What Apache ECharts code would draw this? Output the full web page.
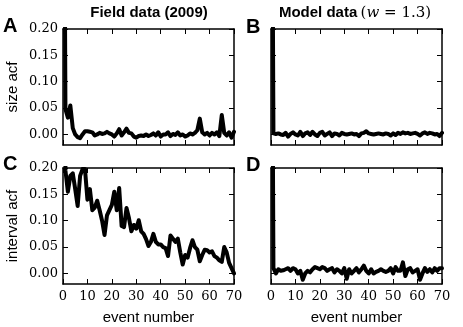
<!DOCTYPE html>
<html>
<head>
<meta charset="utf-8">
<script src="https://cdn.jsdelivr.net/npm/echarts@6/dist/echarts.min.js"></script>
<style>
html, body { margin: 0; padding: 0; background: #fff; }
#main { width: 463px; height: 327px; }
</style>
</head>
<body>
<div id="main"></div>
<script>
// lags 0..70
var lags = [];
for (var i = 0; i <= 70; i++) lags.push(i);
var xTicks = [0, 10, 20, 30, 40, 50, 60, 70];
var yTicks = [0, 0.05, 0.10, 0.15, 0.20];

// A: size acf, field data
var sizeField = [
  1.0, 0.048, 0.032, 0.055, 0.012, 0.0, -0.005, -0.007, 0.0, 0.006,
  0.006, 0.005, 0.004, -0.002, 0.0, 0.003, 0.001, 0.002, 0.005, 0.002,
  0.0, -0.004, 0.002, 0.01, -0.002, 0.004, 0.011, 0.003, 0.002, -0.004,
  -0.006, -0.003, -0.002, -0.003, 0.0, -0.003, -0.001, 0.002, -0.002, 0.004,
  -0.004, 0.0, 0.0, 0.004, -0.003, 0.001, -0.001, 0.004, -0.002, 0.0,
  -0.004, -0.002, 0.002, 0.0, 0.003, 0.008, 0.03, 0.004, 0.0, 0.003,
  -0.002, 0.003, 0.0, 0.004, -0.003, 0.037, 0.003, -0.002, 0.004, -0.006,
  0.005
];
// B: size acf, model data
var sizeModel = [
  1.0, 0.002, 0.001, 0.002, 0.0, -0.001, 0.003, -0.004, 0.001, 0.004,
  0.0, -0.002, 0.005, -0.003, 0.002, 0.004, -0.001, 0.005, 0.0, -0.003,
  0.003, 0.005, -0.002, 0.001, 0.004, -0.003, 0.002, 0.001, -0.002, 0.003,
  0.001, 0.0, 0.001, 0.002, 0.0, 0.001, -0.003, 0.002, 0.003, 0.006,
  0.002, 0.001, 0.0, 0.001, 0.002, 0.001, 0.0, 0.002, 0.001, -0.002,
  0.002, -0.001, 0.003, 0.001, 0.004, 0.002, 0.003, 0.001, 0.002, 0.003,
  0.001, -0.002, 0.002, 0.004, 0.001, 0.003, 0.002, 0.0, 0.001, -0.003,
  0.003
];
// C: interval acf, field data
var intervalField = [
  1.0, 0.195, 0.155, 0.185, 0.19, 0.16, 0.128, 0.185, 0.198, 0.198,
  0.14, 0.16, 0.12, 0.125, 0.138, 0.12, 0.1, 0.073, 0.11, 0.12,
  0.13, 0.155, 0.12, 0.162, 0.09, 0.088, 0.124, 0.105, 0.08, 0.092,
  0.085, 0.101, 0.08, 0.075, 0.065, 0.052, 0.06, 0.075, 0.06, 0.055,
  0.055, 0.05, 0.048, 0.033, 0.072, 0.066, 0.06, 0.066, 0.04, 0.017,
  0.035, 0.03, 0.048, 0.063, 0.05, 0.045, 0.023, 0.035, 0.045, 0.044,
  0.04, 0.042, 0.033, 0.03, 0.025, 0.022, 0.05, 0.04, 0.02, 0.01,
  0.0
];
// D: interval acf, model data
var intervalModel = [
  1.0, 0.01, 0.0, 0.008, 0.005, 0.006, 0.008, 0.01, 0.005, 0.01,
  0.008, 0.0, 0.005, -0.012, 0.0, 0.005, 0.002, 0.008, 0.012, 0.01,
  0.008, 0.012, 0.01, 0.005, 0.008, 0.01, 0.002, 0.008, 0.005, 0.0,
  0.01, -0.01, 0.008, 0.0, 0.005, 0.01, 0.002, 0.008, 0.015, 0.005,
  0.0, 0.008, 0.0, 0.003, 0.005, 0.008, 0.005, 0.003, 0.005, 0.01,
  0.0, 0.012, 0.005, 0.005, 0.021, -0.005, 0.008, 0.01, 0.002, 0.005,
  0.008, -0.012, 0.0, 0.01, 0.003, 0.008, 0.002, 0.01, 0.005, 0.01,
  0.01
];

var panels = [
  { data: sizeField, left: 63, top: 29, xLabels: false, yLabels: true, yName: 'size acf', xName: '' },
  { data: sizeModel, left: 271, top: 29, xLabels: false, yLabels: false, yName: '', xName: '' },
  { data: intervalField, left: 63, top: 168, xLabels: true, yLabels: true, yName: 'interval acf', xName: 'event number' },
  { data: intervalModel, left: 271, top: 168, xLabels: true, yLabels: false, yName: '', xName: 'event number' }
];

var sansFont = 'Liberation Sans';
var serifFont = 'DejaVu Serif';
var lineStyleAxis = { color: '#000', width: 1.5 };

var grids = [], xAxes = [], yAxes = [], series = [];
panels.forEach(function (p, k) {
  grids.push({ left: p.left, top: p.top, width: 171, height: 116 });
  // bottom + top x axis
  [false, true].forEach(function (isTop) {
    xAxes.push({
      type: 'value', gridIndex: k, min: 0, max: 70, interval: 10,
      position: isTop ? 'top' : 'bottom',
      axisLine: { show: true, onZero: false, lineStyle: lineStyleAxis },
      axisTick: { show: true, inside: true, length: 5, lineStyle: { color: '#000', width: 1 } },
      axisLabel: {
        show: !isTop && p.xLabels, margin: 6,
        fontFamily: serifFont, fontSize: 13, color: '#000'
      },
      splitLine: { show: false },
      name: isTop ? '' : p.xName, nameLocation: 'middle', nameGap: 26,
      nameTextStyle: { color: '#000', fontFamily: sansFont, fontSize: 15 }
    });
  });
  // left + right y axis
  [false, true].forEach(function (isRight) {
    yAxes.push({
      type: 'value', gridIndex: k, min: -0.02, max: 0.2,
      position: isRight ? 'right' : 'left',
      axisLine: { show: true, onZero: false, lineStyle: lineStyleAxis },
      axisTick: { show: true, inside: true, length: 5, customValues: yTicks, lineStyle: { color: '#000', width: 1 } },
      axisLabel: {
        show: !isRight && p.yLabels, customValues: yTicks, margin: 5,
        fontFamily: serifFont, fontSize: 13, color: '#000',
        formatter: function (v) { return v.toFixed(2); }
      },
      splitLine: { show: false },
      name: isRight ? '' : p.yName, nameLocation: 'middle', nameGap: 43, nameRotate: 90,
      nameTextStyle: { color: '#000', fontFamily: sansFont, fontSize: 15 }
    });
  });
  series.push({
    type: 'line', xAxisIndex: k * 2, yAxisIndex: k * 2,
    data: lags.map(function (l) { return [l, p.data[l]]; }),
    showSymbol: false, symbol: 'none', clip: true,
    lineStyle: { color: '#000', width: 4, join: 'round', cap: 'round' },
    animation: false
  });
});

var letterStyle = { font: 'bold 20px "Liberation Sans"', fill: '#000', align: 'left', verticalAlign: 'middle' };
function letter(t, x, y) {
  return { type: 'text', x: x, y: y, style: Object.assign({ text: t }, letterStyle) };
}

var option = {
  backgroundColor: '#fff',
  animation: false,
  grid: grids,
  xAxis: xAxes,
  yAxis: yAxes,
  series: series,
  graphic: [
    letter('A', 3, 26), letter('B', 246, 27), letter('C', 3, 164), letter('D', 246, 165),
    {
      type: 'text', x: 149, y: 13,
      style: { text: 'Field data (2009)', font: 'bold 15px "Liberation Sans"', fill: '#000', align: 'center', verticalAlign: 'middle' }
    },
    {
      type: 'text', x: 355, y: 13,
      style: {
        text: '{b|Model data} {m|(}{i|w}{m| = 1.3)}',
        align: 'center', verticalAlign: 'middle', fill: '#000',
        rich: {
          b: { font: 'bold 15px "Liberation Sans"', fill: '#000' },
          m: { font: '15px "DejaVu Serif"', fill: '#000' },
          i: { font: 'italic 15px "DejaVu Serif"', fill: '#000' }
        }
      }
    }
  ]
};

var myChart = echarts.init(document.getElementById('main'), null, { renderer: 'canvas' });
myChart.setOption(option);
</script>
</body>
</html>
